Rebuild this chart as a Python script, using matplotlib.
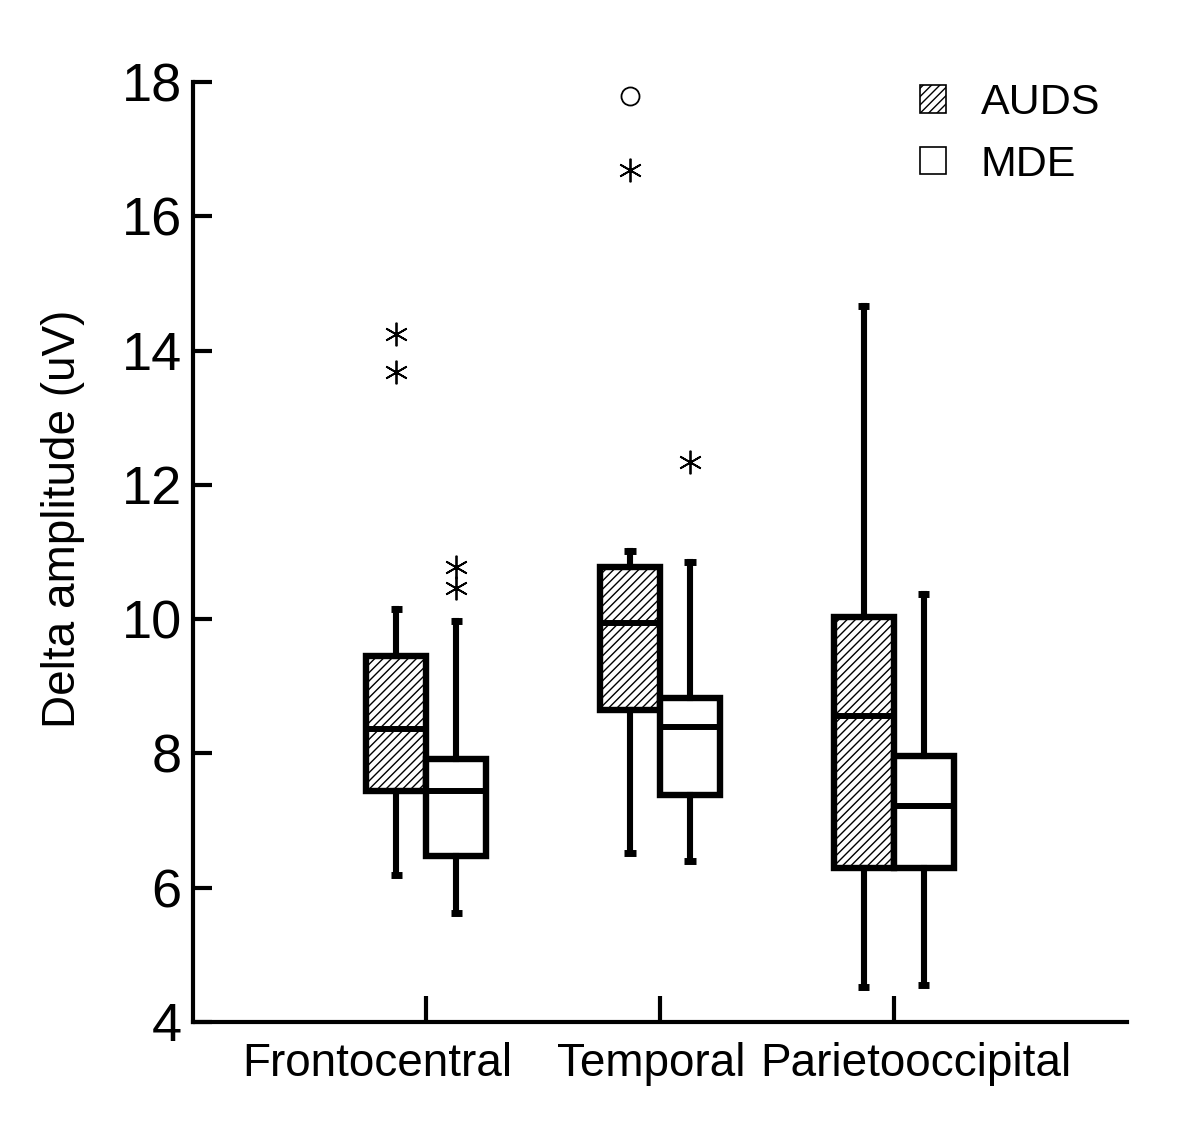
import numpy as np
import matplotlib
matplotlib.use('Agg')
import matplotlib.pyplot as plt
import matplotlib.transforms as mtransforms
from matplotlib.patches import Patch

plt.rcParams['font.family'] = ['Liberation Sans', 'DejaVu Sans']
plt.rcParams['hatch.linewidth'] = 1.0

regions = ['Frontocentral', 'Temporal', 'Parietooccipital']
groups = ['AUDS', 'MDE']

# box statistics per region: [AUDS, MDE]
whislo = [[6.19, 5.62], [6.52, 6.40], [4.52, 4.55]]
q1 = [[7.44, 6.47], [8.65, 7.38], [6.29, 6.29]]
med = [[8.36, 7.44], [9.94, 8.39], [8.56, 7.22]]
q3 = [[9.45, 7.92], [10.78, 8.83], [10.03, 7.96]]
whishi = [[10.15, 9.97], [11.01, 10.85], [14.66, 10.37]]

# asterisk outliers and circle extremes per region: [AUDS, MDE]
outliers = [[[13.68, 14.25], [10.46, 10.78]],
            [[16.69], [12.34]],
            [[], []]]
extremes = [[[], []],
            [[17.79], []],
            [[], []]]

hatches = ['////', '']

fig = plt.figure(figsize=(12, 11.26), dpi=100)
ax = fig.add_axes([0.1608, 0.0924, 0.7784, 0.8348])

width = 0.257
for i, reg in enumerate(regions):
    for j, grp in enumerate(groups):
        pos = (i + 1) + (j - 0.5) * width
        stats = [{'med': med[i][j], 'q1': q1[i][j], 'q3': q3[i][j],
                  'whislo': whislo[i][j], 'whishi': whishi[i][j], 'fliers': []}]
        bp = ax.bxp(stats, positions=[pos], widths=width, patch_artist=True,
                    showfliers=False, capwidths=0.05,
                    boxprops=dict(facecolor='white', edgecolor='black', linewidth=4.6,
                                  hatch=hatches[j]),
                    medianprops=dict(color='black', linewidth=4.3),
                    whiskerprops=dict(color='black', linewidth=4.4),
                    capprops=dict(color='black', linewidth=5.0, solid_capstyle='butt'))
        for b in bp['boxes']:
            b.set_zorder(2)
        if outliers[i][j]:
            ax.plot([pos] * len(outliers[i][j]), outliers[i][j], linestyle='none',
                    marker=(6, 2, 0), markersize=17, markeredgewidth=1.3,
                    color='black', zorder=3)
        if extremes[i][j]:
            ax.plot([pos] * len(extremes[i][j]), extremes[i][j], linestyle='none',
                    marker='o', markersize=13, markerfacecolor='white',
                    markeredgecolor='black', markeredgewidth=1.3, zorder=3)

ax.set_xlim(0, 4)
ax.set_ylim(4, 18)
ax.set_xticks([1, 2, 3])
ax.set_xticklabels([])
# category labels sit a bit off-centre from their ticks in the original
trans = ax.get_xaxis_transform()
for i, (reg, dx) in enumerate(zip(regions, [-49, -9, 22])):
    off = mtransforms.ScaledTranslation(dx / 100, -0.2, fig.dpi_scale_trans)
    ax.text(i + 1, 0, reg, transform=trans + off, ha='center', va='top', fontsize=33)
ax.set_yticks(np.arange(4, 19, 2))
ax.set_yticklabels([str(v) for v in range(4, 19, 2)], fontsize=39)
ax.tick_params(axis='y', direction='in', length=14, width=3, pad=8)
ax.tick_params(axis='x', direction='in', length=19, width=3)
ax.set_ylabel('Delta amplitude (uV)', fontsize=33)
ax.yaxis.set_label_coords(-0.116, 0.535)

for s in ['top', 'right']:
    ax.spines[s].set_visible(False)
for s in ['left', 'bottom']:
    ax.spines[s].set_linewidth(3)

handles = [Patch(facecolor='white', edgecolor='black', hatch=hatches[0], linewidth=1.2, label=groups[0]),
           Patch(facecolor='white', edgecolor='black', hatch=hatches[1], linewidth=1.2, label=groups[1])]
ax.legend(handles=handles, loc='upper right', bbox_to_anchor=(1.0125, 1.04), frameon=False,
          fontsize=31, handlelength=0.6, handleheight=0.6, handletextpad=0.8,
          labelspacing=0.5)

fig.savefig('out.png', dpi=100)
